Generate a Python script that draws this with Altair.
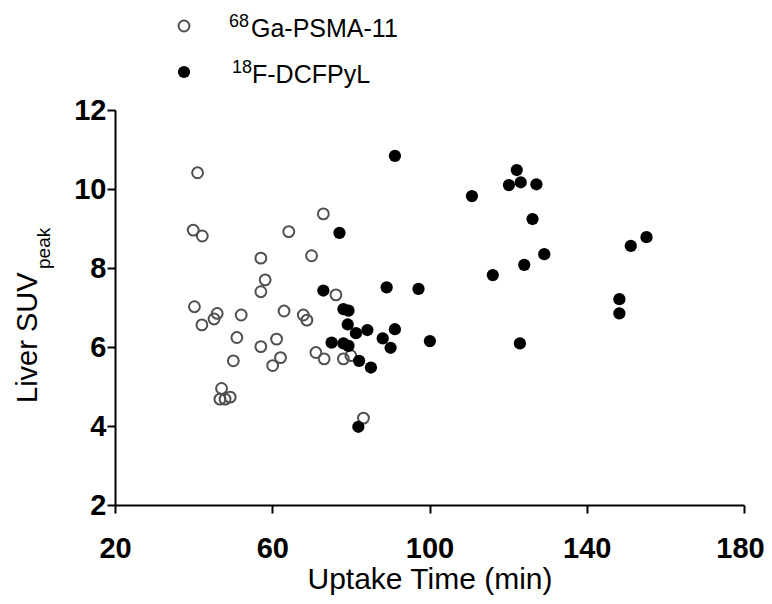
import altair as alt
import pandas as pd

# 68Ga-PSMA-11 (open circles)
ga_time = [41.0, 39.9, 42.2, 64.2, 57.1, 58.2, 57.1, 70.0, 73.0, 76.2,
           40.2, 46.0, 45.2, 42.1, 52.1, 63.0, 67.9, 68.8, 51.0, 61.1,
           57.1, 62.1, 60.1, 50.1, 47.1, 46.7, 48.0, 49.3, 71.1, 73.2,
           78.1, 80.0, 83.2]
ga_suv = [10.41, 8.96, 8.81, 8.92, 8.25, 7.70, 7.40, 8.31, 9.37, 7.32,
          7.02, 6.85, 6.71, 6.56, 6.81, 6.91, 6.81, 6.68, 6.24, 6.20,
          6.01, 5.73, 5.53, 5.65, 4.95, 4.68, 4.68, 4.73, 5.86, 5.70,
          5.70, 5.78, 4.20]

# 18F-DCFPyL (filled circles)
f_time = [91.2, 77.1, 73.0, 89.1, 97.2, 110.8, 78.1, 79.4, 79.2, 81.3,
          84.2, 91.2, 88.1, 90.1, 100.1, 75.1, 78.1, 79.4, 82.1, 85.1,
          81.9, 122.2, 120.2, 123.2, 127.2, 126.2, 129.2, 124.1, 116.1,
          155.2, 151.2, 148.3, 148.3, 123.0]
f_suv = [10.84, 8.89, 7.43, 7.51, 7.47, 9.82, 6.96, 6.92, 6.57, 6.35,
         6.43, 6.45, 6.22, 5.98, 6.15, 6.11, 6.09, 6.03, 5.65, 5.48,
         3.98, 10.48, 10.10, 10.17, 10.12, 9.24, 8.35, 8.08, 7.82,
         8.78, 8.56, 7.21, 6.85, 6.09]

x_ticks = [20, 60, 100, 140, 180]
y_ticks = [2, 4, 6, 8, 10, 12]
legend_sup = ["68", "18"]
legend_main = ["Ga-PSMA-11", "F-DCFPyL"]
x_title = "Uptake Time (min)"
y_title_main = "Liver SUV"
y_title_sub = "peak"

FONT = "Liberation Sans"
W, H = 629, 395
OPEN_SIZE, OPEN_SW, OPEN_COLOR = 118, 2, "#505050"
FILL_SIZE = 150

ga = pd.DataFrame({"time": ga_time, "suv": ga_suv})
fd = pd.DataFrame({"time": f_time, "suv": f_suv})

xs = alt.Scale(domain=[20, 180], nice=False, zero=False)
ys = alt.Scale(domain=[2, 12], nice=False, zero=False)

x_axis = alt.Axis(values=x_ticks, title=x_title, grid=False,
                  domainColor="black", domainWidth=2,
                  tickColor="black", tickWidth=2, tickSize=8,
                  labelFont=FONT, labelFontSize=29, labelFontWeight="bold",
                  labelColor="black", labelPadding=21, labelFlush=False,
                  labelOffset={"condition": {"test": "datum.value === 180", "value": -4}, "value": 0},
                  titleFont=FONT, titleFontSize=30, titleFontWeight="normal",
                  titleColor="black", titlePadding=1)
y_axis = alt.Axis(values=y_ticks, title="", grid=False,
                  domainColor="black", domainWidth=2,
                  tickColor="black", tickWidth=2, tickSize=8,
                  labelFont=FONT, labelFontSize=29, labelFontWeight="bold",
                  labelColor="black", labelPadding=1, labelFlush=False)

open_pts = alt.Chart(ga).mark_point(
    shape="circle", filled=False, size=OPEN_SIZE, strokeWidth=OPEN_SW,
    color=OPEN_COLOR, opacity=1
).encode(
    x=alt.X("time:Q", scale=xs, axis=x_axis),
    y=alt.Y("suv:Q", scale=ys, axis=y_axis),
)

filled_pts = alt.Chart(fd).mark_point(
    shape="circle", filled=True, size=FILL_SIZE, color="black", opacity=1, strokeWidth=0
).encode(
    x=alt.X("time:Q", scale=xs),
    y=alt.Y("suv:Q", scale=ys),
)

def text_layer(txt, x, y, size, **kw):
    return alt.Chart(pd.DataFrame({"t": [txt]})).mark_text(
        font=FONT, fontSize=size, color="black", **kw
    ).encode(x=alt.value(x), y=alt.value(y), text="t:N")

def sym_layer(x, y, filled):
    d = pd.DataFrame({"k": [0]})
    if filled:
        m = alt.Chart(d).mark_point(shape="circle", filled=True, size=FILL_SIZE,
                                    color="black", opacity=1, strokeWidth=0)
    else:
        m = alt.Chart(d).mark_point(shape="circle", filled=False, size=OPEN_SIZE,
                                    strokeWidth=OPEN_SW, color=OPEN_COLOR, opacity=1)
    return m.encode(x=alt.value(x), y=alt.value(y))

legend_layers = [
    sym_layer(69, -84, False),
    text_layer(legend_sup[0], 114, -83, 18, align="left", baseline="alphabetic"),
    text_layer(legend_main[0], 136, -73, 25, align="left", baseline="alphabetic"),
    sym_layer(69, -38, True),
    text_layer(legend_sup[1], 117, -37, 18, align="left", baseline="alphabetic"),
    text_layer(legend_main[1], 137, -27, 25, align="left", baseline="alphabetic"),
]

ytitle_layers = [
    text_layer(y_title_main, -78, 293, 29, align="left", baseline="alphabetic", angle=270),
    text_layer(y_title_sub, -65, 159, 19, align="left", baseline="alphabetic", angle=270),
]

chart = alt.layer(
    open_pts, filled_pts, *legend_layers, *ytitle_layers
).properties(
    width=W, height=H,
    autosize=alt.AutoSizeParams(type="none"),
    padding={"left": 107, "top": 102, "right": 20, "bottom": 91},
    background="white",
).configure_view(stroke=None)

chart.save("out.html", embed_options={"renderer": "svg", "actions": False})
